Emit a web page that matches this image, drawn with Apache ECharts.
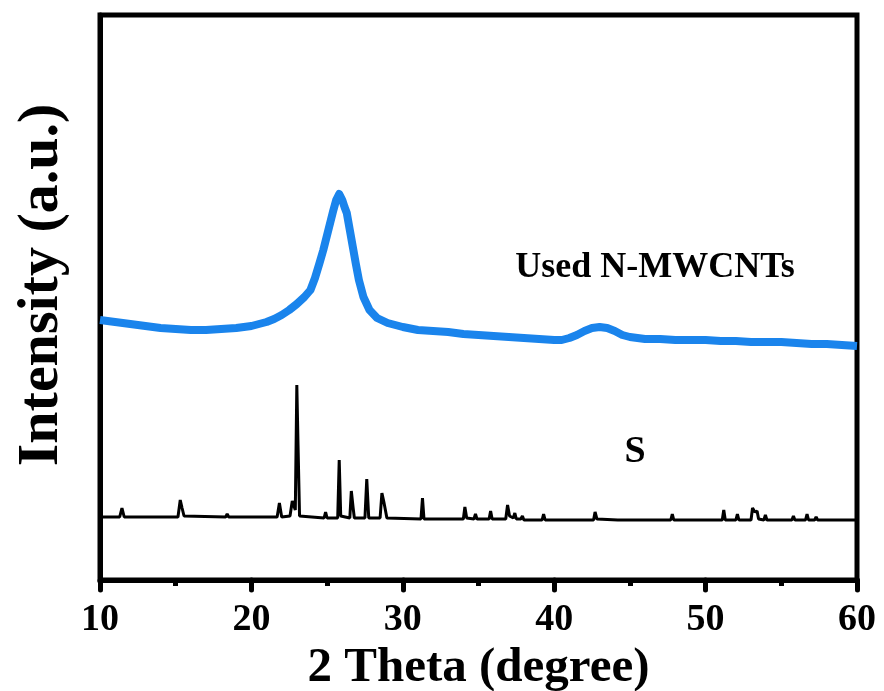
<!DOCTYPE html>
<html>
<head>
<meta charset="utf-8">
<script src="https://cdn.jsdelivr.net/npm/echarts@6/dist/echarts.min.js"></script>
<style>
  html, body { margin: 0; padding: 0; background: #fff; }
  #chart { width: 884px; height: 691px; }
</style>
</head>
<body>
<div id="chart"></div>
<script>
// XRD pattern of used N-MWCNTs (broad graphitic peaks)
const cntTheta = [10, 11, 12, 13, 14, 15, 16, 17, 18, 19, 20, 21, 21.5, 22, 22.5, 23, 23.5, 23.9, 24.2, 24.5,
  24.75, 25, 25.2, 25.4, 25.6, 25.8, 26.0, 26.15, 26.3, 26.5, 26.7, 26.9, 27.1, 27.4, 27.8, 28.3, 29, 30, 31, 32,
  33, 34, 35, 36, 37, 38, 39, 40, 40.5, 41, 41.5, 42, 42.5, 43, 43.5, 44, 44.5, 45, 45.5, 46,
  47, 48, 49, 50, 51, 52, 53, 54, 55, 56, 57, 58, 59, 60];
const cntIntensity = [260, 258, 256, 254, 252, 251, 250, 250, 251, 252, 254, 258, 261, 265, 270, 276, 283, 290, 302, 317,
  330, 345, 357, 369, 380, 386, 380, 373, 367, 350, 333, 316, 300, 283, 270, 262, 257, 253, 250, 249,
  248, 246, 245, 244, 243, 242, 241, 240, 240, 242, 245, 249, 252, 253, 252, 249, 245, 243, 242, 241,
  241, 240, 240, 240, 239, 239, 238, 238, 238, 237, 236, 236, 235, 234];

// XRD pattern of elemental sulfur (sharp crystalline reflections)
const sTheta = [10, 11.3, 11.45, 11.6, 15.15, 15.3, 15.42, 15.55, 18.3, 18.4, 18.5, 21.1, 21.2, 21.3,
  21.7, 21.85, 22.0, 22.55, 22.7, 22.9, 23.0, 23.08, 23.18, 24.8, 24.9, 25.0, 25.7, 25.8, 25.9,
  26.5, 26.6, 26.72, 26.8, 27.5, 27.62, 27.75, 28.5, 28.62, 28.75, 28.85, 28.95, 31.2, 31.3, 31.4,
  33.1, 33.2, 33.3, 34.0, 34.1, 34.22, 34.7, 34.8, 34.9, 35.7, 35.8, 35.9, 36.8, 36.92, 37.05,
  37.3, 37.4, 37.5, 37.8, 37.9, 38.0, 39.2, 39.3, 39.4, 42.6, 42.7, 42.82, 44.2, 44.3, 44.4,
  45.4, 45.5, 45.6, 47.7, 47.8, 47.9, 49.8, 49.9, 50.0, 51.1, 51.2, 51.3, 52.0, 52.1, 52.2,
  53.0, 53.1, 53.25, 53.4, 53.5, 53.85, 53.95, 54.05, 55.7, 55.8, 55.9, 56.6, 56.7, 56.8,
  57.2, 57.3, 57.4, 59.0, 59.1, 59.2, 60];
const sIntensity = [63, 63, 72, 63, 63, 80, 72, 64, 63, 66, 63, 63, 65, 63,
  63, 77, 63, 64, 79, 70, 195, 135, 64, 62, 68, 62, 62, 120, 64,
  62, 89, 72, 62, 62, 101, 62, 62, 87, 78, 77, 62, 61, 82, 61,
  61, 63, 61, 61, 73, 62, 61, 66, 61, 61, 69, 61, 61, 75, 64,
  62, 67, 61, 61, 64, 60, 60, 66, 60, 60, 68, 61, 60, 62, 60,
  60, 62, 60, 60, 66, 60, 60, 62, 60, 60, 70, 60, 60, 66, 60,
  60, 72, 68, 69, 61, 60, 65, 60, 60, 64, 60, 60, 66, 60,
  60, 63, 60, 60, 62, 60, 60];

const xTicks = [10, 20, 30, 40, 50, 60];
const seriesNames = ['Used N-MWCNTs', 'S'];
const axisTitles = ['2 Theta (degree)', 'Intensity (a.u.)'];

const pair = (xs, ys) => xs.map((x, i) => [x, ys[i]]);
const serif = "'Times New Roman', 'Liberation Serif', serif";

const chart = echarts.init(document.getElementById('chart'));
chart.setOption({
  animation: false,
  backgroundColor: '#fff',
  grid: {
    left: 100, right: 27, top: 15, bottom: 111,
    outerBoundsMode: 'none',
    containLabel: false,
    show: true, borderColor: '#000', borderWidth: 5, backgroundColor: 'transparent'
  },
  xAxis: {
    type: 'value',
    min: xTicks[0], max: xTicks[xTicks.length - 1], interval: 10,
    name: axisTitles[0],
    nameLocation: 'middle',
    nameGap: 47,
    nameTextStyle: { fontFamily: serif, fontWeight: 'bold', fontSize: 49, color: '#000' },
    axisLine: { show: true, lineStyle: { color: '#000', width: 5 } },
    axisTick: { show: true, inside: false, length: 10, lineStyle: { color: '#000', width: 5, cap: 'round' } },
    minorTick: { show: true, splitNumber: 2, length: 6, lineStyle: { color: '#000', width: 5 } },
    axisLabel: { margin: 21, fontFamily: serif, fontWeight: 'bold', fontSize: 38, color: '#000' },
    splitLine: { show: false }
  },
  yAxis: {
    type: 'value',
    min: 0, max: 565,
    axisLine: { show: true, lineStyle: { color: '#000', width: 5 } },
    axisTick: { show: false },
    axisLabel: { show: false },
    splitLine: { show: false }
  },
  series: [
    {
      name: seriesNames[0],
      type: 'line',
      data: pair(cntTheta, cntIntensity),
      showSymbol: false,
      smooth: false,
      lineStyle: { color: '#1a84ec', width: 8, join: 'round' },
      z: 3
    },
    {
      name: seriesNames[1],
      type: 'line',
      data: pair(sTheta, sIntensity),
      showSymbol: false,
      lineStyle: { color: '#000', width: 3 },
      z: 2
    }
  ],
  graphic: [
    {
      type: 'text', x: 42, y: 285, rotation: Math.PI / 2,
      style: { text: axisTitles[1], fontFamily: serif, fontWeight: 'bold', fontSize: 58, fill: '#000',
               textAlign: 'center', textVerticalAlign: 'middle' }
    },
    {
      type: 'text', x: 655, y: 268,
      style: { text: seriesNames[0], fontFamily: serif, fontWeight: 'bold', fontSize: 36, fill: '#000',
               textAlign: 'center', textVerticalAlign: 'middle' }
    },
    {
      type: 'text', x: 635, y: 452,
      style: { text: seriesNames[1], fontFamily: serif, fontWeight: 'bold', fontSize: 38, fill: '#000',
               textAlign: 'center', textVerticalAlign: 'middle' }
    }
  ]
});
</script>
</body>
</html>
